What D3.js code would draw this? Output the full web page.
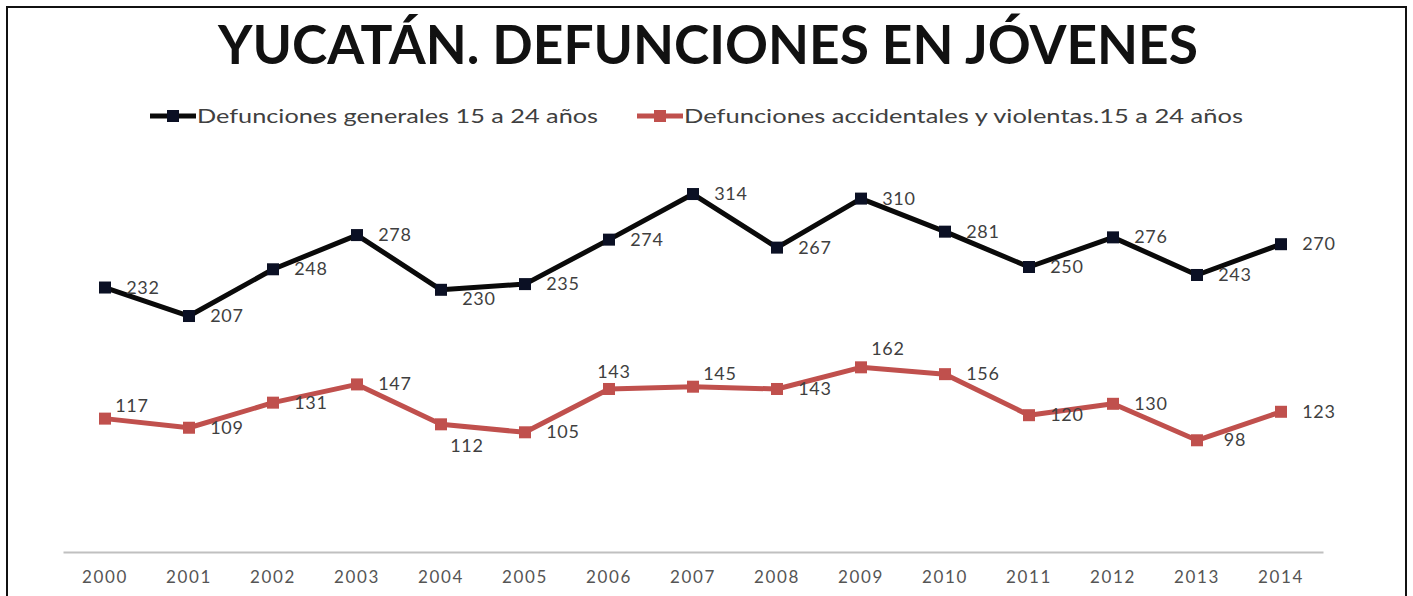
<!DOCTYPE html>
<html>
<head>
<meta charset="utf-8">
<script src="https://cdn.jsdelivr.net/npm/d3@7"></script>
<style>
  body { margin: 0; background: #fff; }
  text { font-family: Lato, "Open Sans", sans-serif; }
</style>
</head>
<body>
<div id="chart"></div>
<script>
// datos
var years = ["2000","2001","2002","2003","2004","2005","2006","2007","2008","2009","2010","2011","2012","2013","2014"];
var generales = [232, 207, 248, 278, 230, 235, 274, 314, 267, 310, 281, 250, 276, 243, 270];
var violentas = [117, 109, 131, 147, 112, 105, 143, 145, 143, 162, 156, 120, 130, 98, 123];
var seriesNames = ["Defunciones generales 15 a 24 años", "Defunciones accidentales y violentas.15 a 24 años"];
// donde va cada etiqueta: r = derecha, ra = derecha arriba, rb = derecha abajo, a = arriba, b = abajo
var posGenerales = ["r","r","r","r","rb","r","r","r","r","r","r","r","r","r","r"];
var posViolentas = ["ra","r","r","r","b","r","a","ra","r","ra","r","r","r","r","r"];

var width = 1413;
var height = 596;

var svg = d3.select('#chart')
    .append('svg')
    .attr('width', width)
    .attr('height', height);

// marco
svg.append('rect')
    .attr('x', 7).attr('y', 7)
    .attr('width', 1399).attr('height', 640)
    .attr('fill', 'none')
    .attr('stroke', '#111')
    .attr('stroke-width', 2);

// titulo, ajustado al ancho
var title = svg.append('text')
    .attr('x', 708)
    .attr('y', 64)
    .attr('text-anchor', 'middle')
    .attr('font-weight', 'bold')
    .attr('font-size', 50)
    .attr('fill', '#111')
    .text('YUCATÁN. DEFUNCIONES EN JÓVENES');
var tl = title.node().getComputedTextLength();
title.attr('font-size', 50 * 980 / tl);

var scaleX = d3.scaleBand()
    .domain(years)
    .range([63, 1323]);

var scaleY = d3.scaleLinear()
    .domain([0, 350])
    .range([552, 552 - 350 * 1.14]);

// eje x
var xAxis = d3.axisBottom(scaleX).tickSize(0).tickPadding(19);
var gx = svg.append('g')
    .attr('transform', 'translate(0,552)')
    .call(xAxis);
gx.select('.domain').attr('stroke', '#c0c0c0').attr('stroke-width', 2);
gx.selectAll('text')
    .attr('font-family', 'Lato, sans-serif')
    .attr('font-size', 17)
    .attr('letter-spacing', 1.6)
    .attr('fill', '#555');

var series = [
    { name: seriesNames[0], values: generales, pos: posGenerales, color: '#0a0a0a', marker: '#0b1024', legendW: 401 },
    { name: seriesNames[1], values: violentas, pos: posViolentas, color: '#c0504d', marker: '#c0504d', legendW: 559 }
];

var line = d3.line()
    .x((d, i) => scaleX(years[i]) + scaleX.bandwidth() / 2)
    .y((d) => scaleY(d));

series.forEach(function(s) {
    var g = svg.append('g');
    g.append('path')
        .attr('d', line(s.values))
        .attr('fill', 'none')
        .attr('stroke', s.color)
        .attr('stroke-width', 5)
        .attr('stroke-linejoin', 'round');

    g.selectAll('rect')
        .data(s.values)
        .enter()
        .append('rect')
        .attr('x', (d, i) => scaleX(years[i]) + scaleX.bandwidth() / 2 - 6)
        .attr('y', (d) => scaleY(d) - 6)
        .attr('width', 12)
        .attr('height', 12)
        .attr('fill', s.marker);

    g.selectAll('text')
        .data(s.values)
        .enter()
        .append('text')
        .attr('x', function(d, i) {
            var cx = scaleX(years[i]) + scaleX.bandwidth() / 2;
            var p = s.pos[i];
            if (p == 'a') return cx + 5;
            if (p == 'b') return cx + 26;
            if (p == 'ra') return cx + 27;
            return cx + 38;
        })
        .attr('y', function(d, i) {
            var cy = scaleY(d);
            var p = s.pos[i];
            if (p == 'a') return cy - 11;
            if (p == 'ra') return cy - 7 + (d > 150 ? -5 : 0);
            if (p == 'rb') return cy + 15;
            if (p == 'b') return cy + 28;
            return cy + 6;
        })
        .attr('text-anchor', 'middle')
        .attr('font-size', 18)
        .attr('letter-spacing', 0.8)
        .attr('fill', '#3f3f3f')
        .text((d) => d);
});

// leyenda
var legendX = [150, 637];
series.forEach(function(s, i) {
    var lg = svg.append('g').attr('transform', 'translate(' + legendX[i] + ',116)');
    lg.append('line')
        .attr('x1', 0).attr('x2', 46)
        .attr('y1', 0).attr('y2', 0)
        .attr('stroke', s.color)
        .attr('stroke-width', 5);
    lg.append('rect')
        .attr('x', 17).attr('y', -6)
        .attr('width', 12).attr('height', 12)
        .attr('fill', s.marker);
    lg.append('text')
        .attr('x', 47)
        .attr('y', 7)
        .attr('font-size', 19.5)
        .attr('textLength', s.legendW)
        .attr('lengthAdjust', 'spacingAndGlyphs')
        .attr('fill', '#404040')
        .text(s.name);
});
</script>
</body>
</html>
